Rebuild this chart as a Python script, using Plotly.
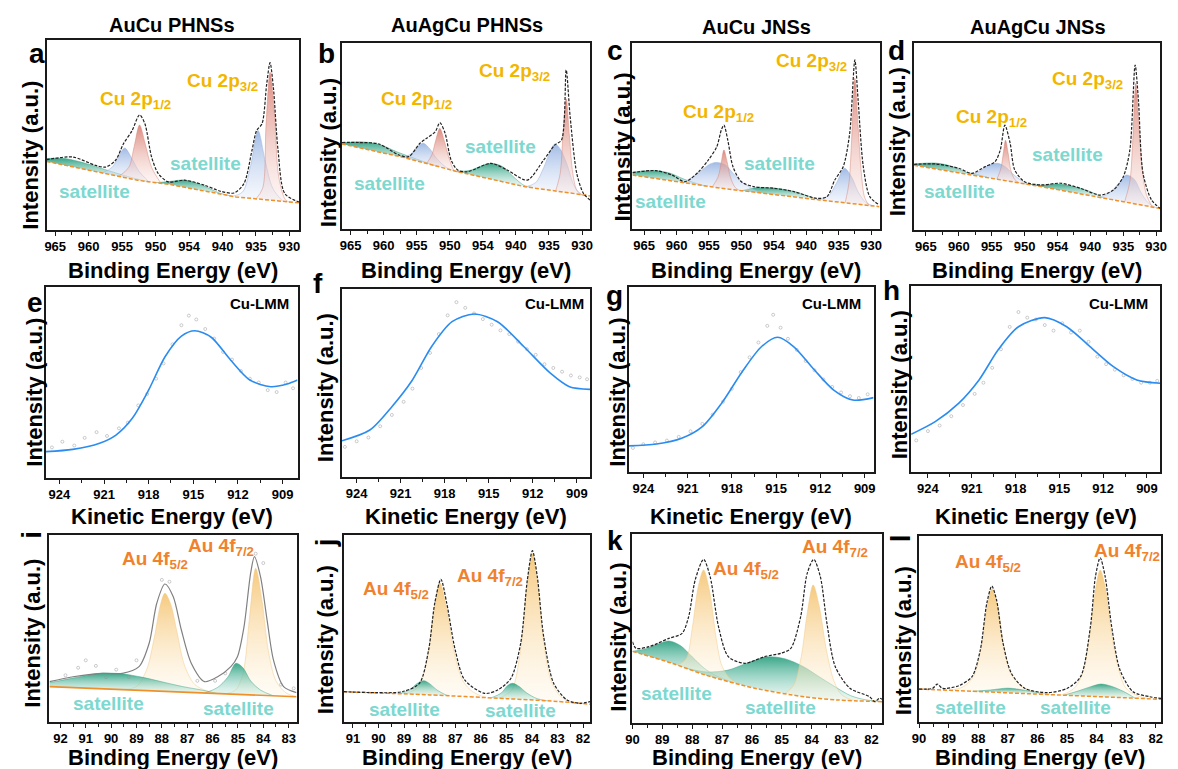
import plotly.graph_objects as go

W, H = 1178, 769
FONT = "Liberation Sans, Arial, sans-serif"

# ---------------- tick labels / titles ----------------
cu_tickvals = [965, 960, 955, 950, 945, 940, 935, 930]
cu_ticktext = ["965", "960", "955", "950", "954", "940", "935", "930"]
lmm_tickvals = [924, 921, 918, 915, 912, 909]
au_tickvals_i = [92, 91, 90, 89, 88, 87, 86, 85, 84, 83]
au_tickvals_j = [91, 90, 89, 88, 87, 86, 85, 84, 83, 82]
au_tickvals_kl = [90, 89, 88, 87, 86, 85, 84, 83, 82]
col_titles = ["AuCu PHNSs", "AuAgCu PHNSs", "AuCu JNSs", "AuAgCu JNSs"]

# ---------------- panel a (Cu 2p, AuCu PHNSs) ----------------
a_bg = [(966.3, 36.1), (952.7, 26.2), (947.8, 23.9), (938.0, 17.4), (928.6, 14.3)]
a_env = [(966.3, 37.0), (962.4, 38.4), (958.95, 34.0), (957.5, 33.1), (956.0, 36.6), (954.8, 45.4),
         (953.5, 52.4), (952.4, 60.6), (951.6, 55.9), (950.6, 38.4), (949.6, 29.7), (948.1, 25.3),
         (945.7, 26.2), (942.7, 23.6), (940.3, 20.4), (938.3, 19.5), (936.8, 24.4), (935.6, 41.9),
         (934.9, 52.4), (934.1, 55.9), (933.4, 76.8), (932.9, 88.1), (932.4, 75.0), (931.7, 41.9),
         (930.7, 19.2), (928.6, 14.8)]
a_sat1 = [(966.3, 37.6), (963.5, 37.6), (960.0, 34.6), (957.0, 31.2), (954.0, 28.0), (951.0, 25.4)]
a_blue1 = [(958.0, 30.0), (956.5, 33.0), (955.5, 39.0), (954.6, 43.1), (953.6, 38.0), (952.5, 31.0), (951.0, 25.4)]
a_red1 = [(955.5, 28.2), (954.0, 33.0), (953.2, 44.0), (952.4, 55.3), (951.6, 46.0), (950.6, 33.0), (949.2, 24.6)]
a_sat2 = [(950.0, 24.9), (948.0, 25.5), (945.6, 26.3), (943.0, 23.5), (940.5, 19.5), (938.5, 17.7)]
a_blue2 = [(938.5, 17.7), (937.0, 20.0), (935.8, 34.0), (934.7, 52.4), (933.6, 36.0), (932.5, 22.0), (931.0, 15.1)]
a_red2 = [(935.0, 16.4), (934.0, 22.0), (933.5, 55.0), (932.9, 83.0), (932.2, 60.0), (931.6, 28.0), (930.5, 15.5), (929.5, 14.6)]

# ---------------- panel b (Cu 2p, AuAgCu PHNSs) ----------------
b_bg = [(966.3, 45.7), (957.0, 38.5), (948.8, 30.8), (938.6, 22.7), (930.3, 18.6), (928.8, 17.8)]
b_env = [(966.3, 46.5), (963.7, 46.5), (960.7, 45.7), (957.7, 39.8), (956.2, 38.9), (954.5, 46.1),
         (953.5, 48.8), (952.2, 52.3), (951.5, 57.2), (950.7, 51.4), (949.8, 37.1), (948.8, 31.7),
         (947.3, 30.8), (943.8, 35.3), (941.3, 31.7), (938.3, 26.3), (935.8, 37.1), (934.1, 45.2),
         (933.1, 47.8), (932.4, 85.5), (931.8, 60.4), (930.8, 29.9), (929.8, 19.2), (928.8, 15.6)]
b_sat1 = [(966.3, 46.3), (963.0, 46.8), (960.5, 45.3), (958.0, 41.5), (955.5, 38.2), (952.0, 33.8)]
b_blue1 = [(957.5, 38.9), (956.0, 40.0), (955.0, 44.0), (954.0, 46.1), (953.0, 43.0), (952.0, 38.0), (950.5, 33.0), (949.3, 31.3)]
b_red1 = [(953.5, 35.2), (952.7, 40.0), (952.1, 48.0), (951.5, 54.1), (950.8, 47.0), (950.1, 38.0), (949.3, 31.3), (948.5, 30.6)]
b_sat2 = [(949.0, 31.0), (947.0, 31.5), (945.5, 33.5), (943.8, 35.3), (942.0, 33.5), (940.5, 28.5), (938.8, 23.5), (937.5, 22.2)]
b_blue2 = [(938.5, 22.65), (937.0, 25.0), (935.8, 33.0), (934.8, 42.0), (934.1, 45.7), (933.3, 43.0), (932.3, 35.0), (931.3, 24.0), (930.3, 18.6), (929.5, 18.2)]
b_red2 = [(934.0, 20.4), (933.3, 30.0), (932.9, 50.0), (932.4, 70.0), (931.9, 50.0), (931.4, 30.0), (930.8, 21.0), (930.0, 18.4)]

# ---------------- panel c (Cu 2p, AuCu JNSs) ----------------
c_bg = [(966.8, 29.0), (953.1, 21.9), (937.9, 15.6), (928.7, 12.0)]
c_env = [(966.8, 30.3), (963.2, 31.4), (960.7, 29.0), (958.7, 25.4), (956.6, 30.8), (955.1, 37.1),
         (953.8, 44.2), (953.1, 53.2), (952.7, 55.9), (952.1, 47.8), (951.3, 33.5), (950.0, 25.4),
         (948.0, 22.7), (945.0, 21.9), (941.9, 20.1), (938.4, 16.5), (936.8, 17.4), (935.6, 26.3),
         (934.3, 33.5), (933.3, 51.4), (932.5, 90.9), (932.0, 69.4), (931.2, 33.5), (930.2, 17.4), (928.7, 12.9)]
c_sat1 = [(966.8, 30.5), (963.5, 31.5), (961.0, 30.0), (959.0, 27.0), (957.0, 24.6), (955.5, 23.1)]
c_blue1 = [(959.0, 24.9), (957.5, 28.0), (956.0, 32.0), (954.8, 35.0), (953.8, 35.8), (952.5, 34.5), (951.3, 30.0), (950.0, 25.5), (948.5, 22.0), (947.0, 19.4)]
c_red1 = [(954.5, 22.6), (953.6, 28.0), (953.1, 36.0), (952.7, 42.5), (952.2, 36.0), (951.7, 28.0), (951.0, 22.5), (950.3, 20.7)]
c_sat2 = [(950.0, 20.6), (947.5, 22.3), (945.0, 22.0), (942.0, 20.3), (939.5, 17.5), (938.0, 15.6)]
c_blue2 = [(938.0, 15.6), (936.5, 18.0), (935.3, 25.0), (934.1, 32.6), (933.0, 28.0), (932.0, 20.0), (930.8, 14.2), (929.5, 12.3)]
c_red2 = [(934.0, 14.1), (933.4, 25.0), (933.0, 48.0), (932.5, 81.0), (932.0, 55.0), (931.5, 30.0), (931.0, 17.0), (930.3, 12.6)]

# ---------------- panel d (Cu 2p, AuAgCu JNSs) ----------------
d_bg = [(966.8, 34.6), (947.5, 23.2), (929.4, 11.5)]
d_env = [(966.8, 35.1), (963.5, 35.3), (960.0, 33.0), (958.0, 30.3), (956.0, 33.9), (954.5, 36.5),
         (953.7, 42.8), (953.0, 56.1), (952.2, 46.4), (951.5, 32.1), (950.0, 25.8), (947.5, 24.1),
         (944.5, 25.0), (941.5, 22.3), (938.5, 18.7), (936.5, 21.4), (935.0, 28.5), (934.0, 42.8),
         (933.2, 88.2), (932.7, 69.5), (932.0, 30.3), (930.7, 16.0), (929.4, 11.6)]
d_sat1 = [(966.8, 35.3), (963.5, 35.8), (961.0, 34.0), (959.0, 31.0), (957.0, 29.5), (955.5, 27.9)]
d_blue1 = [(958.5, 29.7), (957.0, 31.0), (955.8, 34.0), (954.2, 35.7), (953.0, 34.0), (951.8, 30.0), (950.5, 26.5), (949.0, 24.1)]
d_red1 = [(954.2, 27.2), (953.6, 33.0), (953.2, 42.0), (952.9, 48.0), (952.5, 41.0), (952.1, 32.0), (951.5, 27.0), (950.8, 25.2)]
d_sat2 = [(950.0, 24.7), (947.5, 24.0), (945.0, 24.6), (942.5, 23.2), (940.0, 20.5), (938.0, 17.1)]
d_blue2 = [(938.5, 17.4), (937.0, 20.0), (935.7, 25.0), (934.5, 29.4), (933.3, 27.0), (932.3, 20.0), (931.2, 14.5), (930.0, 11.9)]
d_red2 = [(934.8, 15.0), (934.0, 26.0), (933.6, 45.0), (933.1, 78.4), (932.6, 55.0), (932.1, 32.0), (931.5, 19.0), (930.6, 12.3)]

# ---------------- panels e-h (Cu LMM) ----------------
e_fit = [(924.9, 13.8), (923.1, 15.0), (921.3, 18.2), (920.2, 22.5), (919.1, 31.3), (918.0, 46.1), (916.9, 63.5),
         (915.8, 74.3), (914.9, 77.1), (913.8, 73.7), (912.5, 61.8), (911.2, 51.3), (909.8, 47.8), (908.7, 49.2), (908.0, 51.3)]
e_raw = [(924.5, 16), (923.8, 19), (923.0, 17), (922.3, 21), (921.5, 24), (920.8, 22), (920.0, 26), (919.4, 29),
         (918.7, 38), (918.1, 44), (917.5, 52), (917.0, 60), (916.4, 70), (915.8, 80), (915.3, 85), (914.8, 83),
         (914.2, 78), (913.6, 73), (913.0, 66), (912.4, 62), (911.8, 56), (911.2, 52), (910.6, 50), (910.0, 46),
         (909.4, 45), (908.8, 50), (908.3, 47)]
f_fit = [(925.0, 19.3), (923.1, 25.0), (921.6, 37.4), (920.2, 51.6), (918.9, 69.3), (917.5, 82.6), (916.0, 86.7),
         (914.4, 82.6), (912.6, 69.3), (910.8, 55.2), (909.5, 48.0), (908.1, 46.6)]
f_raw = [(924.8, 16), (924.0, 19), (923.2, 21), (922.4, 27), (921.6, 33), (920.8, 40), (920.2, 47), (919.6, 58),
         (919.0, 66), (918.4, 76), (917.8, 86), (917.2, 93), (916.6, 90), (916.0, 87), (915.4, 84), (914.8, 81),
         (914.2, 78), (913.6, 76), (913.0, 72), (912.4, 68), (911.8, 65), (911.2, 60), (910.6, 58), (910.0, 56),
         (909.4, 54), (908.8, 53), (908.3, 52)]
g_fit = [(925.0, 14.1), (923.1, 15.1), (921.4, 18.2), (920.0, 24.5), (918.7, 37.1), (917.3, 54.2), (916.0, 67.7),
         (914.9, 72.8), (913.8, 67.7), (912.4, 55.1), (911.1, 44.3), (909.8, 38.9), (908.4, 40.2)]
g_raw = [(924.7, 13), (924.0, 15), (923.2, 16), (922.4, 17), (921.6, 19), (920.8, 22), (920.0, 26), (919.3, 31),
         (918.6, 38), (918.0, 45), (917.4, 54), (916.8, 62), (916.2, 70), (915.6, 79), (915.2, 85), (914.7, 78),
         (914.2, 72), (913.6, 66), (913.0, 60), (912.4, 55), (911.8, 50), (911.2, 46), (910.6, 43), (910.0, 41),
         (909.4, 40), (908.8, 42)]
h_fit = [(925.15, 20.3), (923.5, 27.1), (921.9, 36.9), (920.5, 49.5), (919.2, 65.6), (917.8, 78.1), (916.0, 83.0),
         (914.5, 78.1), (912.9, 67.4), (911.3, 56.6), (909.7, 49.5), (908.1, 47.7)]
h_raw = [(924.8, 17), (924.0, 22), (923.2, 25), (922.4, 30), (921.6, 36), (920.8, 42), (920.2, 48), (919.6, 56),
         (919.0, 66), (918.4, 78), (917.8, 86), (917.2, 83), (916.6, 82), (916.0, 79), (915.4, 76), (914.8, 80),
         (914.2, 75), (913.6, 76), (913.0, 70), (912.4, 62), (911.8, 58), (911.2, 55), (910.6, 52), (910.0, 50),
         (909.4, 48), (908.8, 48), (908.3, 49)]

# ---------------- panel i (Au 4f, AuCu PHNSs) ----------------
i_bg = [(92.43, 18.9), (82.69, 13.5)]
i_env = [(92.43, 21.6), (91.5, 24.2), (90.34, 26.0), (89.56, 26.0), (88.9, 29.6), (88.5, 42.1), (88.2, 63.5),
         (87.88, 73.8), (87.55, 67.0), (87.23, 49.2), (86.84, 31.4), (86.32, 21.6), (85.8, 24.2), (85.28, 29.6),
         (85.02, 34.9), (84.76, 51.0), (84.5, 79.5), (84.35, 88.4), (84.11, 77.7), (83.85, 54.5), (83.6, 33.2),
         (83.2, 18.9), (82.69, 15.7)]
i_sat1 = [(92.43, 21.0), (91.5, 23.5), (90.5, 26.0), (89.6, 25.8), (88.8, 24.0), (88.0, 21.5), (87.2, 19.0), (86.4, 17.0), (85.8, 15.2)]
i_au1 = [(89.6, 17.4), (89.0, 19.0), (88.6, 28.0), (88.3, 45.0), (88.05, 63.0), (87.88, 68.8), (87.65, 63.0),
         (87.4, 48.0), (87.1, 30.0), (86.7, 20.0), (86.2, 16.5), (85.8, 15.2)]
i_sat2 = [(86.3, 15.5), (85.8, 18.5), (85.4, 24.0), (85.08, 31.4), (84.8, 29.0), (84.5, 22.0), (84.1, 17.0), (83.6, 14.0)]
i_au2 = [(85.5, 15.1), (85.1, 17.0), (84.8, 26.0), (84.55, 55.0), (84.3, 82.2), (84.05, 65.0), (83.8, 38.0),
         (83.5, 22.0), (83.1, 15.5), (82.69, 13.5)]
i_raw = [(91.8, 25), (91.3, 29), (91.0, 33), (90.6, 30), (90.2, 24), (89.8, 28), (89.3, 24), (89.0, 33),
         (88.0, 76), (87.7, 75), (86.6, 22), (85.9, 22), (85.5, 26), (84.3, 90), (84.0, 85), (83.3, 20), (82.8, 18)]

# ---------------- panel j (Au 4f, AuAgCu PHNSs) ----------------
j_bg = [(91.36, 16.2), (88.0, 14.5), (85.0, 12.5), (83.0, 11.0), (81.73, 9.5)]
j_env = [(91.36, 16.2), (90.1, 15.7), (89.07, 16.2), (88.4, 20.7), (88.04, 38.5), (87.8, 63.5), (87.56, 76.3),
         (87.33, 63.5), (87.0, 38.5), (86.63, 22.5), (85.85, 15.3), (85.34, 17.1), (84.82, 23.4), (84.44, 42.1),
         (84.18, 75.9), (83.98, 91.6), (83.79, 77.7), (83.54, 45.6), (83.15, 20.7), (82.63, 11.8), (82.12, 10.0), (81.73, 10.9)]
j_sat1 = [(89.2, 15.1), (88.8, 17.0), (88.5, 20.5), (88.23, 22.1), (88.0, 20.5), (87.7, 17.0), (87.3, 14.0)]
j_au1 = [(89.0, 15.0), (88.5, 18.0), (88.15, 30.0), (87.85, 58.0), (87.6, 74.5), (87.35, 62.0), (87.05, 38.0),
         (86.7, 22.0), (86.3, 16.0), (85.8, 13.0)]
j_sat2 = [(85.6, 12.9), (85.2, 15.5), (84.95, 19.5), (84.76, 20.7), (84.5, 19.0), (84.2, 15.5), (83.8, 12.5), (83.4, 11.3)]
j_au2 = [(85.3, 12.7), (84.8, 17.0), (84.45, 38.0), (84.2, 72.0), (83.98, 90.0), (83.78, 74.0), (83.55, 44.0),
         (83.25, 22.0), (82.9, 14.0), (82.5, 10.4)]

# ---------------- panel k (Au 4f, AuCu JNSs) ----------------
k_bg = [(90.0, 37.9), (88.67, 31.6), (87.56, 25.4), (85.91, 18.4), (84.26, 13.9), (83.16, 12.2), (81.63, 11.3)]
k_env = [(90.0, 43.0), (89.88, 39.5), (89.44, 40.4), (88.78, 44.8), (88.34, 47.4), (88.12, 56.2), (87.9, 75.7),
         (87.62, 86.6), (87.4, 77.4), (87.12, 51.0), (86.79, 35.1), (86.24, 31.6), (85.58, 35.1), (85.03, 36.9),
         (84.7, 39.5), (84.37, 56.2), (84.15, 79.2), (83.93, 86.6), (83.71, 77.4), (83.49, 52.8), (83.21, 29.8),
         (82.72, 18.4), (82.06, 13.9), (81.89, 11.3), (81.73, 13.1), (81.63, 12.5)]
k_sat1 = [(90.0, 37.9), (89.5, 39.5), (89.1, 42.0), (88.78, 43.4), (88.4, 41.0), (88.0, 35.0), (87.6, 29.0), (87.2, 25.0), (86.6, 21.3)]
k_au1 = [(88.5, 30.6), (88.2, 34.0), (88.0, 50.0), (87.8, 72.0), (87.62, 81.0), (87.42, 70.0), (87.2, 45.0),
         (87.0, 30.0), (86.7, 23.0), (86.4, 20.5)]
k_sat2 = [(88.2, 29.0), (87.5, 27.0), (86.8, 28.0), (86.2, 31.5), (85.5, 35.0), (84.9, 34.0), (84.3, 30.0),
          (83.8, 25.0), (83.2, 19.0), (82.7, 14.5), (82.2, 12.3), (81.63, 11.3)]
k_au2 = [(84.9, 15.6), (84.6, 20.0), (84.35, 35.0), (84.15, 58.0), (83.95, 73.0), (83.75, 62.0), (83.5, 38.0),
         (83.25, 22.0), (83.0, 15.0), (82.6, 11.9)]

# ---------------- panel l (Au 4f, AuAgCu JNSs) ----------------
l_bg = [(90.0, 17.7), (81.82, 12.2)]
l_env = [(90.0, 17.7), (89.54, 18.1), (89.38, 20.4), (89.21, 18.1), (88.66, 19.5), (88.21, 24.4), (87.93, 38.7),
         (87.71, 63.8), (87.54, 73.1), (87.38, 65.6), (87.16, 42.3), (86.88, 26.2), (86.43, 18.1), (85.66, 15.8),
         (84.99, 18.1), (84.54, 24.4), (84.21, 51.2), (84.04, 78.1), (83.88, 88.3), (83.71, 78.1), (83.49, 51.2),
         (83.21, 28.0), (82.77, 16.3), (82.21, 13.6), (81.82, 12.7)]
l_au1 = [(89.0, 17.0), (88.5, 19.0), (88.15, 25.0), (87.9, 40.0), (87.7, 62.0), (87.54, 71.5), (87.35, 63.0),
         (87.15, 42.0), (86.9, 26.0), (86.5, 19.0), (86.0, 16.0), (85.5, 14.7)]
l_sat1 = [(88.2, 16.5), (87.6, 17.2), (87.0, 18.2), (86.4, 17.0), (85.8, 15.1)]
l_au2 = [(85.2, 14.5), (84.8, 17.5), (84.5, 25.0), (84.25, 45.0), (84.05, 70.0), (83.88, 81.7), (83.7, 72.0),
         (83.5, 48.0), (83.25, 28.0), (83.0, 18.0), (82.6, 14.0), (82.2, 12.5)]
l_sat2 = [(85.1, 14.4), (84.6, 16.8), (84.2, 19.0), (83.85, 20.4), (83.5, 19.2), (83.1, 16.5), (82.7, 12.8)]

# ---------------- styles ----------------
COL = {
    "red": ("rgba(214,118,104,0.85)", "rgba(250,228,224,0.35)", "rgba(214,130,118,0.6)"),
    "blue": ("rgba(138,170,222,0.80)", "rgba(228,236,250,0.35)", "rgba(150,175,220,0.6)"),
    "teal": ("rgba(38,158,126,0.90)", "rgba(205,238,228,0.35)", "rgba(60,165,135,0.6)"),
    "gold": ("rgba(244,192,104,0.85)", "rgba(255,246,228,0.35)", "rgba(240,200,130,0.6)"),
}
GOLD_TXT = "#F2B600"
SAT_TXT = "#7DD8CF"
AU_TXT = "#F0822E"
BG_LINE = "#F0902A"
LMM_LINE = "#2A8CF0"

# panel boxes in pixels: left, right, top, bottom
boxes = {
    "a": (40, 296, 40, 230), "b": (339, 590, 43, 229), "c": (633, 883, 43, 229), "d": (918, 1167, 43, 230),
    "e": (39, 294, 287, 478), "f": (339, 590, 289, 477), "g": (629, 877, 287, 472), "h": (915, 1167, 286, 472),
    "i": (43, 293, 535, 722), "j": (341, 590, 535, 722), "k": (633, 886, 534, 723), "l": (923, 1168, 536, 722),
}
xranges = {
    "a": (966.3, 928.5), "b": (966.3, 928.8), "c": (966.8, 928.7), "d": (966.8, 929.4),
    "e": (924.93, 908.0), "f": (925.0, 908.1), "g": (925.0, 908.4), "h": (925.15, 908.1),
    "i": (92.43, 82.69), "j": (91.35, 81.73), "k": (90.0, 81.63), "l": (90.0, 81.82),
}

fig = go.Figure()
letters = "abcdefghijkl"


def axnames(idx):
    s = "" if idx == 1 else str(idx)
    return "x" + s, "y" + s, "xaxis" + s, "yaxis" + s


def xs(p):
    return [q[0] for q in p]


def ys(p):
    return [q[1] for q in p]


def add_component(idx, pts, bg, key):
    xa, ya, _, _ = axnames(idx)
    top, bot, lc = COL[key]
    pts = sorted(pts)
    lo, hi = pts[0][0], pts[-1][0]
    sub = [p for p in bg if lo <= p[0] <= hi]
    if not any(abs(p[0] - lo) < 1e-9 for p in sub):
        sub.append(pts[0])
    if not any(abs(p[0] - hi) < 1e-9 for p in sub):
        sub.append(pts[-1])
    sub.sort()
    fig.add_trace(go.Scatter(x=xs(sub), y=ys(sub), mode="lines", line=dict(width=0, color="rgba(0,0,0,0)"),
                             xaxis=xa, yaxis=ya, hoverinfo="skip", showlegend=False))
    y0 = min(ys(sub) + ys(pts))
    y1 = max(ys(pts))
    fig.add_trace(go.Scatter(x=xs(pts), y=ys(pts), mode="lines",
                             line=dict(width=0.8, color=lc, shape="spline", smoothing=0.9),
                             fill="tonexty",
                             fillgradient=dict(type="vertical", colorscale=[[0, bot], [1, top]], start=y0, stop=y1),
                             xaxis=xa, yaxis=ya, hoverinfo="skip", showlegend=False))


def add_line(idx, pts, color, width, dash="solid", shape="spline"):
    xa, ya, _, _ = axnames(idx)
    fig.add_trace(go.Scatter(x=xs(pts), y=ys(pts), mode="lines",
                             line=dict(color=color, width=width, dash=dash, shape=shape, smoothing=0.8),
                             xaxis=xa, yaxis=ya, hoverinfo="skip", showlegend=False))


def add_dots(idx, pts):
    xa, ya, _, _ = axnames(idx)
    fig.add_trace(go.Scatter(x=xs(pts), y=ys(pts), mode="markers",
                             marker=dict(symbol="circle-open", size=3, color="rgba(150,150,150,0.6)", line=dict(width=0.8)),
                             xaxis=xa, yaxis=ya, hoverinfo="skip", showlegend=False))


cu_panels = {
    "a": (a_bg, a_env, [(a_sat1, "teal"), (a_sat2, "teal"), (a_blue1, "blue"), (a_blue2, "blue"), (a_red1, "red"), (a_red2, "red")]),
    "b": (b_bg, b_env, [(b_sat1, "teal"), (b_sat2, "teal"), (b_blue1, "blue"), (b_blue2, "blue"), (b_red1, "red"), (b_red2, "red")]),
    "c": (c_bg, c_env, [(c_sat1, "teal"), (c_sat2, "teal"), (c_blue1, "blue"), (c_blue2, "blue"), (c_red1, "red"), (c_red2, "red")]),
    "d": (d_bg, d_env, [(d_sat1, "teal"), (d_sat2, "teal"), (d_blue1, "blue"), (d_blue2, "blue"), (d_red1, "red"), (d_red2, "red")]),
}
lmm_panels = {"e": (e_fit, e_raw), "f": (f_fit, f_raw), "g": (g_fit, g_raw), "h": (h_fit, h_raw)}
au_panels = {
    "i": (i_bg, i_env, [(i_au1, "gold"), (i_au2, "gold"), (i_sat1, "teal"), (i_sat2, "teal")]),
    "j": (j_bg, j_env, [(j_au1, "gold"), (j_au2, "gold"), (j_sat1, "teal"), (j_sat2, "teal")]),
    "k": (k_bg, k_env, [(k_sat1, "teal"), (k_sat2, "teal"), (k_au1, "gold"), (k_au2, "gold")]),
    "l": (l_bg, l_env, [(l_au1, "gold"), (l_au2, "gold"), (l_sat1, "teal"), (l_sat2, "teal")]),
}

layout = {}
for n, L in enumerate(letters, start=1):
    xa, ya, xk, yk = axnames(n)
    left, right, top, bottom = boxes[L]
    tickfont = dict(family=FONT, size=13, color="black", weight="bold")
    xd = dict(domain=[left / W, right / W], range=list(xranges[L]), anchor=ya,
              showline=True, mirror=True, linecolor="#1a1a1a", linewidth=1.5,
              showgrid=False, zeroline=False, ticks="outside", ticklen=4, tickwidth=1.3, tickcolor="#1a1a1a",
              tickfont=tickfont, fixedrange=True)
    if L in "abcd":
        xd.update(tickmode="array", tickvals=cu_tickvals, ticktext=cu_ticktext,
                  minor=dict(tickmode="linear", tick0=930, dtick=2.5, ticks="outside", ticklen=3, tickcolor="#1a1a1a"))
    elif L in "efgh":
        xd.update(tickmode="array", tickvals=lmm_tickvals,
                  minor=dict(tickmode="linear", tick0=909, dtick=1.5, ticks="outside", ticklen=3, tickcolor="#1a1a1a"))
    else:
        tv = au_tickvals_i if L == "i" else (au_tickvals_j if L == "j" else au_tickvals_kl)
        xd.update(tickmode="array", tickvals=tv,
                  minor=dict(tickmode="linear", tick0=82, dtick=0.5, ticks="outside", ticklen=3, tickcolor="#1a1a1a"))
    yd = dict(domain=[1 - bottom / H, 1 - top / H], range=[0, 100], anchor=xa,
              showline=True, mirror=True, linecolor="#1a1a1a", linewidth=1.5,
              showgrid=False, zeroline=False, showticklabels=False, ticks="", fixedrange=True)
    layout[xk] = xd
    layout[yk] = yd

    if L in cu_panels:
        bg, env, comps = cu_panels[L]
        for pts, key in comps:
            add_component(n, pts, bg, key)
        add_line(n, bg, BG_LINE, 1.5, dash="4px,2px", shape="linear")
        add_line(n, env, "#222222", 1.2, dash="3px,1.5px")
    elif L in lmm_panels:
        fit, raw = lmm_panels[L]
        add_dots(n, raw)
        add_line(n, fit, LMM_LINE, 1.6)
    else:
        bg, env, comps = au_panels[L]
        for pts, key in comps:
            add_component(n, pts, bg, key)
        if L == "i":
            add_line(n, bg, BG_LINE, 1.6, shape="linear")
            add_dots(n, i_raw)
            add_line(n, env, "#808080", 1.2)
        else:
            add_line(n, bg, BG_LINE, 1.5, dash="4px,2px", shape="spline")
            add_line(n, env, "#222222", 1.2, dash="3px,1.5px")

annotations = []


def ann(text, px, py, size, color="black", angle=0, xanchor="center"):
    annotations.append(dict(text=text, x=px / W, y=1 - py / H, xref="paper", yref="paper",
                            xanchor=xanchor, yanchor="middle", showarrow=False, textangle=angle,
                            font=dict(family=FONT, size=size, color=color)))


for t, cx, cy in zip(col_titles, [167, 466, 759, 1043], [25, 25, 27, 27]):
    ann("<b>%s</b>" % t, cx, cy, 20)

letter_pos = {"a": (30, 53), "b": (323, 53), "c": (615, 50), "d": (900, 50),
              "e": (28, 302), "f": (315, 284), "g": (615, 295), "h": (895, 290),
              "i": (24, 535), "j": (322, 543), "k": (615, 540), "l": (904, 538)}
for L, (px, py) in letter_pos.items():
    ann("<b>%s</b>" % L, px, py, 28, angle=(-90 if L in "ijl" else 0))

ytitle_pos = {"a": (23, 155), "b": (325, 153), "c": (623, 147), "d": (902, 142),
              "e": (27, 392), "f": (322, 388), "g": (617, 392), "h": (903, 385),
              "i": (25, 633), "j": (322, 640), "k": (618, 637), "l": (907, 641)}
for L, (px, py) in ytitle_pos.items():
    ann("<b>Intensity (a.u.)</b>", px, py, 22, angle=-90)

for L in letters:
    left, right, top, bottom = boxes[L]
    cx = (left + right) / 2
    if L in "abcd":
        ann("<b>Binding Energy (eV)</b>", cx, 270, 22)
    elif L in "efgh":
        ann("<b>Kinetic Energy (eV)</b>", cx, 516, 22)
    else:
        ann("<b>Binding Energy (eV)</b>", cx, 757, 22)

cu_labels = {
    "a": [(130, 100), (218, 82), (89, 191), (201, 163)],
    "b": [(414, 100), (514, 72), (387, 183), (499, 147)],
    "c": [(720, 113), (814, 62), (671, 201), (782, 163)],
    "d": [(996, 118), (1094, 80), (964, 191), (1073, 154)],
}
for L, pos in cu_labels.items():
    ann("<b>Cu 2p<sub>1/2</sub></b>", pos[0][0], pos[0][1], 19, GOLD_TXT)
    ann("<b>Cu 2p<sub>3/2</sub></b>", pos[1][0], pos[1][1], 19, GOLD_TXT)
    ann("<b>satellite</b>", pos[2][0], pos[2][1], 19, SAT_TXT)
    ann("<b>satellite</b>", pos[3][0], pos[3][1], 19, SAT_TXT)

for px in [287, 586, 866, 1157]:
    ann("<b>Cu-LMM</b>", px, 303, 15, xanchor="right")

au_labels = {
    "i": [(150, 560), (217, 547), (103, 703), (234, 708)],
    "j": [(394, 590), (489, 577), (402, 709), (520, 710)],
    "k": [(748, 570), (838, 548), (678, 693), (783, 707)],
    "l": [(993, 563), (1133, 552), (975, 707), (1081, 707)],
}
for L, pos in au_labels.items():
    ann("<b>Au 4f<sub>5/2</sub></b>", pos[0][0], pos[0][1], 19, AU_TXT)
    ann("<b>Au 4f<sub>7/2</sub></b>", pos[1][0], pos[1][1], 19, AU_TXT)
    ann("<b>satellite</b>", pos[2][0], pos[2][1], 19, SAT_TXT)
    ann("<b>satellite</b>", pos[3][0], pos[3][1], 19, SAT_TXT)

fig.update_layout(width=W, height=H, margin=dict(l=0, r=0, t=0, b=0), autosize=False,
                  paper_bgcolor="white", plot_bgcolor="white", showlegend=False,
                  font=dict(family=FONT, color="black"), annotations=annotations, **layout)

fig.write_html("out.html", config={"displayModeBar": False})
